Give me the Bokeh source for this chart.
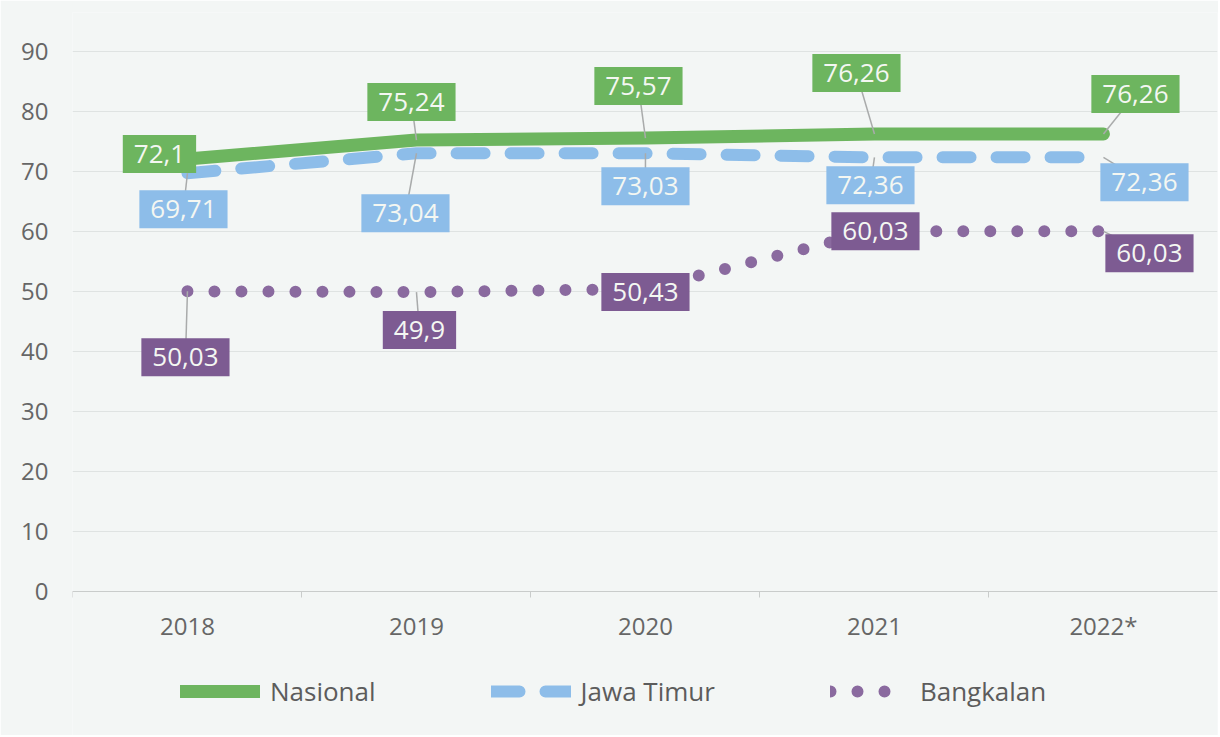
from bokeh.plotting import figure
from bokeh.models import (ColumnDataSource, Range1d, FixedTicker, Legend, LegendItem)
from bokeh.core.properties import value
from bokeh.embed import file_html
from bokeh.resources import INLINE

# ---------------- data ----------------
years = ["2018", "2019", "2020", "2021", "2022*"]
nasional = [72.1, 75.24, 75.57, 76.26, 76.26]
jawa_timur = [69.71, 73.04, 73.03, 72.36, 72.36]
bangkalan = [50.03, 49.9, 50.43, 60.03, 60.03]
series_names = ["Nasional", "Jawa Timur", "Bangkalan"]
y_ticks = [0, 10, 20, 30, 40, 50, 60, 70, 80, 90]

# ---------------- layout / style ----------------
FONT = "Open Sans"
BG = "#f3f6f5"
GREEN = "#6db55f"
BLUE = "#8dbde9"
PURPLE = "#7d5b92"
PURPLE_DOT = "#8a6a9f"

W, H = 1218, 735
LEFT, RIGHT, TOP, BOTTOM = 72, 1, 12, 0
ZERO_PX = 591          # screen row of value 0
PX_PER_UNIT = 6.0
frame_w = W - LEFT - RIGHT
frame_h = H - TOP - BOTTOM
x_start = -0.502
x_end = x_start + frame_w / 229.0
y_start = -(H - BOTTOM - ZERO_PX) / PX_PER_UNIT
y_end = (ZERO_PX - TOP) / PX_PER_UNIT
px_x = frame_w / (x_end - x_start)
px_y = frame_h / (y_end - y_start)

# label offsets in screen pixels (dx right, dy down) relative to each point
off_nas = [(-28, -5), (-5, -38), (-7, -52), (-18, -61), (32, -40)]
off_jat = [(-4, 36), (-11, 60), (0, 33), (-4, 28), (41, 25)]
off_bkl = [(-2, 66), (3, 38), (0, 3), (1, 0), (46, 22)]

idx = list(range(len(years)))

p = figure(width=W, height=H, output_backend="svg", toolbar_location=None,
           x_range=Range1d(x_start, x_end), y_range=Range1d(y_start, y_end),
           min_border_left=LEFT, min_border_right=RIGHT,
           min_border_top=TOP, min_border_bottom=BOTTOM)
p.background_fill_color = BG
p.border_fill_color = BG
p.outline_line_color = None

# grid
p.xgrid.grid_line_color = None
p.ygrid.grid_line_color = "#dfe3e2"
p.ygrid.grid_line_width = 1.2
p.yaxis.ticker = FixedTicker(ticks=y_ticks)
p.xaxis.ticker = FixedTicker(ticks=idx, minor_ticks=[i - 0.5 for i in idx] + [idx[-1] + 0.5])
p.xaxis.major_label_overrides = {i: y for i, y in zip(idx, years)}
p.xaxis.fixed_location = 0

# axes style
for ax in (p.xaxis, p.yaxis):
    ax.major_label_text_font = FONT
    ax.major_label_text_font_size = "24px"
    ax.major_label_text_color = "#666666"
    ax.major_tick_line_color = None
    ax.major_tick_out = 0
    ax.major_tick_in = 0
p.yaxis.axis_line_color = None
p.yaxis.minor_tick_line_color = None
p.yaxis.major_label_standoff = 24
p.xaxis.axis_line_color = "#c9cccb"
p.xaxis.axis_line_width = 1.2
p.xaxis.minor_tick_line_color = "#c9cccb"
p.xaxis.minor_tick_out = 6
p.xaxis.minor_tick_in = 0
p.xaxis.major_label_standoff = 11

# series lines
r_jat = p.line(idx, jawa_timur, line_color=BLUE, line_width=12, line_dash="28 26",
               line_cap="round")
r_nas = p.line(idx, nasional, line_color=GREEN, line_width=13, line_cap="round",
               line_join="round")
r_bkl = p.line(idx, bangkalan, line_color=PURPLE_DOT, line_width=12, line_dash="0 27",
               line_cap="round")

# labels
def add_labels(vals, offs, color):
    xs, ys, dxs, dys, txt, lx, ly = [], [], [], [], [], [], []
    for i, v in enumerate(vals):
        dx, dy = offs[i]
        xs.append(i)
        ys.append(v)
        dxs.append(dx)
        dys.append(dy)
        txt.append(("%g" % v).replace(".", ","))
        lx.append(i + dx / px_x)
        ly.append(v - dy / px_y)
    src = ColumnDataSource(dict(x=xs, y=ys, dx=dxs, dy=dys, t=txt, lx=lx, ly=ly))
    p.segment(x0="x", y0="y", x1="lx", y1="ly", source=src,
              line_color="#a9abab", line_width=1.5)
    return src, color

label_sets = [add_labels(nasional, off_nas, GREEN),
              add_labels(jawa_timur, off_jat, BLUE),
              add_labels(bangkalan, off_bkl, PURPLE)]
for src, color in label_sets:
    p.text(x="x", y="y", text="t", x_offset="dx", y_offset="dy", source=src,
           text_align="center", text_baseline="middle",
           text_font=value(FONT), text_font_size="26px", text_color="#f4f7f2",
           background_fill_color=color,
           padding=dict(left=11, right=11, top=10, bottom=10))

# legend
legend = Legend(items=[LegendItem(label=series_names[0], renderers=[r_nas]),
                       LegendItem(label=series_names[1], renderers=[r_jat]),
                       LegendItem(label=series_names[2], renderers=[r_bkl])],
                orientation="horizontal", location=(108, 26),
                glyph_width=80, glyph_height=30, label_standoff=10, spacing=115,
                padding=0, margin=0,
                label_text_font=FONT, label_text_font_size="26px",
                label_text_color="#5c5c5c",
                background_fill_alpha=0, border_line_alpha=0)
p.add_layout(legend)

open("out.html", "w").write(file_html(p, INLINE))
